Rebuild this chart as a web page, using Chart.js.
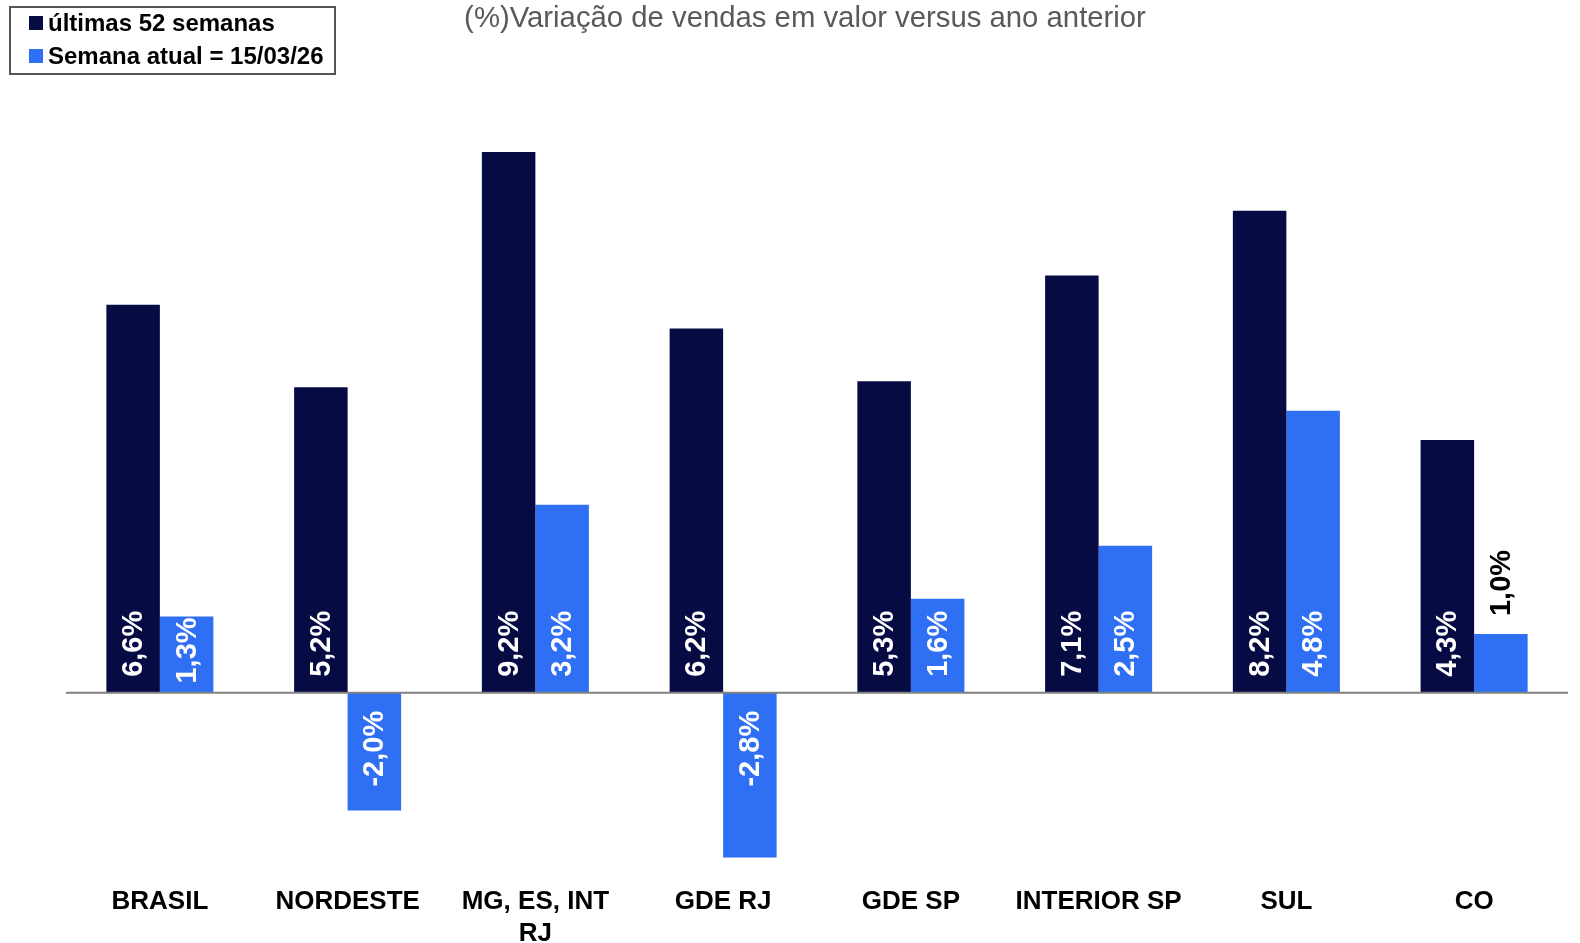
<!DOCTYPE html>
<html>
<head>
<meta charset="utf-8">
<script src="https://cdn.jsdelivr.net/npm/chart.js@4/dist/chart.umd.min.js"></script>
<style>
html,body{margin:0;padding:0;background:#fff;}
#wrap{width:1580px;height:943px;position:relative;}
</style>
</head>
<body>
<div id="wrap"><canvas id="c" width="1580" height="943"></canvas></div>
<script>
const categories = ['BRASIL', 'NORDESTE', ['MG, ES, INT', 'RJ'], 'GDE RJ', 'GDE SP', 'INTERIOR SP', 'SUL', 'CO'];
const series52 = [6.6, 5.2, 9.2, 6.2, 5.3, 7.1, 8.2, 4.3];
const seriesAtual = [1.3, -2.0, 3.2, -2.8, 1.6, 2.5, 4.8, 1.0];
const seriesNames = ['últimas 52 semanas', 'Semana atual = 15/03/26'];
const titleText = '(%)Variação de vendas em valor versus ano anterior';

const FONT = '"Liberation Sans", Arial, Helvetica, sans-serif';
const DARK = '#070B44';
const BLUE = '#2E6FF3';

const fmt = v => v.toFixed(1).replace('.', ',') + '%';

const decorPlugin = {
  id: 'decor',
  afterDatasetsDraw(chart) {
    const ctx = chart.ctx;
    const y = chart.scales.y;
    const area = chart.chartArea;
    const zero = y.getPixelForValue(0);
    ctx.save();
    ctx.strokeStyle = '#808080';
    ctx.lineWidth = 2;
    ctx.beginPath();
    ctx.moveTo(area.left, zero);
    ctx.lineTo(area.right, zero);
    ctx.stroke();
    ctx.restore();

    ctx.save();
    ctx.font = 'bold 29px ' + FONT;
    ctx.textBaseline = 'middle';
    chart.data.datasets.forEach((ds, di) => {
      const meta = chart.getDatasetMeta(di);
      meta.data.forEach((bar, i) => {
        const v = ds.data[i];
        const txt = fmt(v);
        const w = ctx.measureText(txt).width;
        ctx.save();
        ctx.translate(bar.x + 1, 0);
        ctx.rotate(-Math.PI / 2);
        if (v >= 0) {
          if (bar.y + w <= bar.base - 6) {
            const s = Math.max(bar.base - 16, bar.y + w + 1);
            ctx.fillStyle = '#ffffff';
            ctx.textAlign = 'left';
            ctx.fillText(txt, -s, 0);
          } else {
            ctx.fillStyle = '#000000';
            ctx.textAlign = 'left';
            ctx.fillText(txt, -(bar.y - 18), 0);
          }
        } else {
          ctx.fillStyle = '#ffffff';
          ctx.textAlign = 'right';
          ctx.fillText(txt, -(bar.base + 18), 0);
        }
        ctx.restore();
      });
    });
    ctx.restore();
  },
  afterDraw(chart) {
    const ctx = chart.ctx;
    ctx.save();
    ctx.fillStyle = '#595959';
    ctx.font = '29.3px ' + FONT;
    ctx.textAlign = 'center';
    ctx.textBaseline = 'middle';
    ctx.fillText(titleText, 805, 19);
    ctx.strokeStyle = '#555555';
    ctx.lineWidth = 2;
    ctx.strokeRect(10, 7, 325, 67);
    const colors = [DARK, BLUE];
    const rows = [23, 56];
    ctx.font = 'bold 24px ' + FONT;
    ctx.textAlign = 'left';
    for (let k = 0; k < 2; k++) {
      ctx.fillStyle = colors[k];
      ctx.fillRect(29, rows[k] - 7, 14, 14);
      ctx.fillStyle = '#000000';
      ctx.fillText(seriesNames[k], 48, rows[k] + 1);
    }
    ctx.restore();
  }
};

new Chart(document.getElementById('c'), {
  type: 'bar',
  data: {
    labels: categories,
    datasets: [
      { label: seriesNames[0], data: series52, backgroundColor: DARK, categoryPercentage: 0.57, barPercentage: 1.0 },
      { label: seriesNames[1], data: seriesAtual, backgroundColor: BLUE, categoryPercentage: 0.57, barPercentage: 1.0 }
    ]
  },
  options: {
    responsive: false,
    animation: false,
    devicePixelRatio: 1,
    layout: { padding: { top: 105, left: 66, right: 12, bottom: 0 } },
    plugins: { legend: { display: false }, title: { display: false }, tooltip: { enabled: false } },
    scales: {
      y: {
        display: false,
        min: -3.15,
        max: 10
      },
      x: {
        grid: { display: false, drawTicks: false },
        border: { display: false },
        ticks: {
          color: '#000000',
          font: { family: FONT, size: 26, weight: 'bold', lineHeight: 1.22 },
          padding: 8,
          maxRotation: 0,
          autoSkip: false
        },
        afterFit(scale) { scale.height = 65; }
      }
    }
  },
  plugins: [decorPlugin]
});
</script>
</body>
</html>
